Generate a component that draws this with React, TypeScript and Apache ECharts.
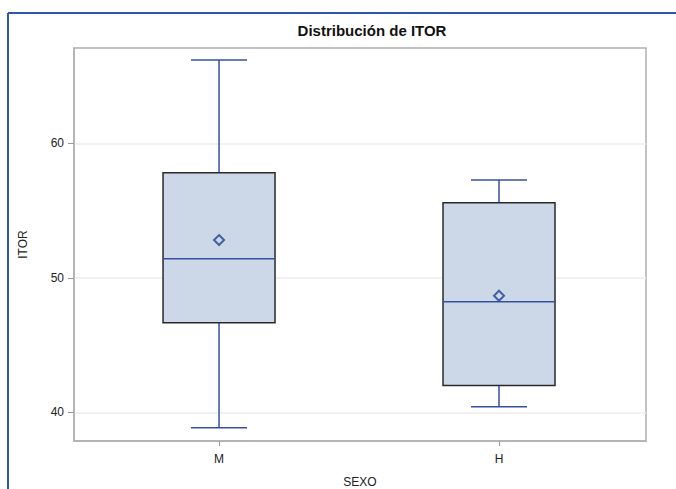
import React, { useEffect, useRef } from "react";
import * as echarts from "echarts";

const categories = ["M", "H"];
const categoryPositions = [0, 1];
// [min, Q1, median, Q3, max]
const boxStats = [
  [38.86, 46.66, 51.42, 57.81, 66.19],
  [40.42, 42.0, 48.22, 55.58, 57.27],
];
const means = [52.81, 48.67];
const yTicks = [40, 50, 60];
const yMin = 37.87;
const yMax = 67.09;
const xMin = -0.518;
const xMax = 1.525;

export default function App() {
  const ref = useRef<HTMLDivElement>(null);
  useEffect(() => {
    if (!ref.current) return;
    const chart = echarts.init(ref.current, undefined, { renderer: "svg" });
    const font = "Liberation Sans, Arial, sans-serif";
    const boxData = boxStats.map((s, i) => [categoryPositions[i], ...s]);
    const meanData = means.map((m, i) => [categoryPositions[i], m]);
    chart.setOption({
      animation: false,
      backgroundColor: "#ffffff",
      title: {
        text: "Distribución de ITOR",
        left: 367,
        top: 18,
        textAlign: "center",
        textStyle: { fontSize: 15, fontWeight: "bold", color: "#111", fontFamily: font },
      },
      graphic: [
        { type: "line", shape: { x1: 8, y1: 13, x2: 676, y2: 13 }, style: { stroke: "#2f56a8", lineWidth: 2 } },
        { type: "line", shape: { x1: 8, y1: 13, x2: 8, y2: 489 }, style: { stroke: "#2f56a8", lineWidth: 2 } },
      ],
      grid: {
        left: 74,
        right: 30,
        top: 48,
        bottom: 48,
        containLabel: false,
        outerBoundsMode: "none",
        show: true,
        borderColor: "#b0b0b0",
        borderWidth: 1.5,
        backgroundColor: "transparent",
      },
      xAxis: {
        type: "value",
        min: xMin,
        max: xMax,
        name: "SEXO",
        nameLocation: "middle",
        nameGap: 35,
        nameTextStyle: { fontSize: 12, color: "#222", fontFamily: font },
        axisLine: { show: true, onZero: false, lineStyle: { color: "#b0b0b0", width: 1.5 } },
        axisTick: { show: true, length: 5, customValues: categoryPositions, lineStyle: { color: "#999" } },
        axisLabel: {
          fontSize: 12,
          color: "#222",
          fontFamily: font,
          margin: 12,
          customValues: categoryPositions,
          formatter: (v: number) => categories[Math.round(v)] ?? "",
        },
        splitLine: { show: false },
      },
      yAxis: {
        type: "value",
        min: yMin,
        max: yMax,
        splitNumber: 3,
        name: "ITOR",
        nameLocation: "middle",
        nameGap: 45,
        nameTextStyle: { fontSize: 12, color: "#222", fontFamily: font },
        axisLine: { show: true, onZero: false, lineStyle: { color: "#b0b0b0", width: 1.5 } },
        axisTick: { show: true, length: 6, customValues: yTicks, lineStyle: { color: "#999" } },
        axisLabel: { fontSize: 12, color: "#222", fontFamily: font, customValues: yTicks, margin: 10 },
        splitLine: { show: true, lineStyle: { color: "#ececec", width: 1.5 } },
      },
      series: [
        {
          type: "custom",
          data: boxData,
          encode: { x: 0, y: [1, 2, 3, 4, 5] },
          renderItem: (params: any, api: any) => {
            const idx = api.value(0);
            const pMin = api.coord([idx, api.value(1)]);
            const pQ1 = api.coord([idx, api.value(2)]);
            const pMed = api.coord([idx, api.value(3)]);
            const pQ3 = api.coord([idx, api.value(4)]);
            const pMax = api.coord([idx, api.value(5)]);
            const bw = api.size([0.4, 0])[0];
            const cx = pMed[0];
            const cap = bw / 4;
            const blue = "#3550a0";
            const lw = 1.5;
            return {
              type: "group",
              children: [
                { type: "line", shape: { x1: cx, y1: pMax[1], x2: cx, y2: pQ3[1] }, style: { stroke: blue, lineWidth: lw } },
                { type: "line", shape: { x1: cx, y1: pQ1[1], x2: cx, y2: pMin[1] }, style: { stroke: blue, lineWidth: lw } },
                { type: "line", shape: { x1: cx - cap, y1: pMax[1], x2: cx + cap, y2: pMax[1] }, style: { stroke: blue, lineWidth: lw } },
                { type: "line", shape: { x1: cx - cap, y1: pMin[1], x2: cx + cap, y2: pMin[1] }, style: { stroke: blue, lineWidth: lw } },
                {
                  type: "rect",
                  shape: { x: cx - bw / 2, y: pQ3[1], width: bw, height: pQ1[1] - pQ3[1] },
                  style: { fill: "#ccd7e8", stroke: "#2a2a2a", lineWidth: 1.5 },
                },
                { type: "line", shape: { x1: cx - bw / 2, y1: pMed[1], x2: cx + bw / 2, y2: pMed[1] }, style: { stroke: blue, lineWidth: lw } },
              ],
            };
          },
          z: 2,
        },
        {
          type: "scatter",
          data: meanData,
          symbol: "diamond",
          symbolSize: 10,
          itemStyle: { color: "rgba(0,0,0,0)", borderColor: "#23408f", borderWidth: 2 },
          z: 3,
        },
      ],
    });
    return () => chart.dispose();
  }, []);
  return (
    <div
      ref={ref}
      style={{ position: "fixed", left: 0, top: 0, width: 676, height: 489 }}
    />
  );
}
